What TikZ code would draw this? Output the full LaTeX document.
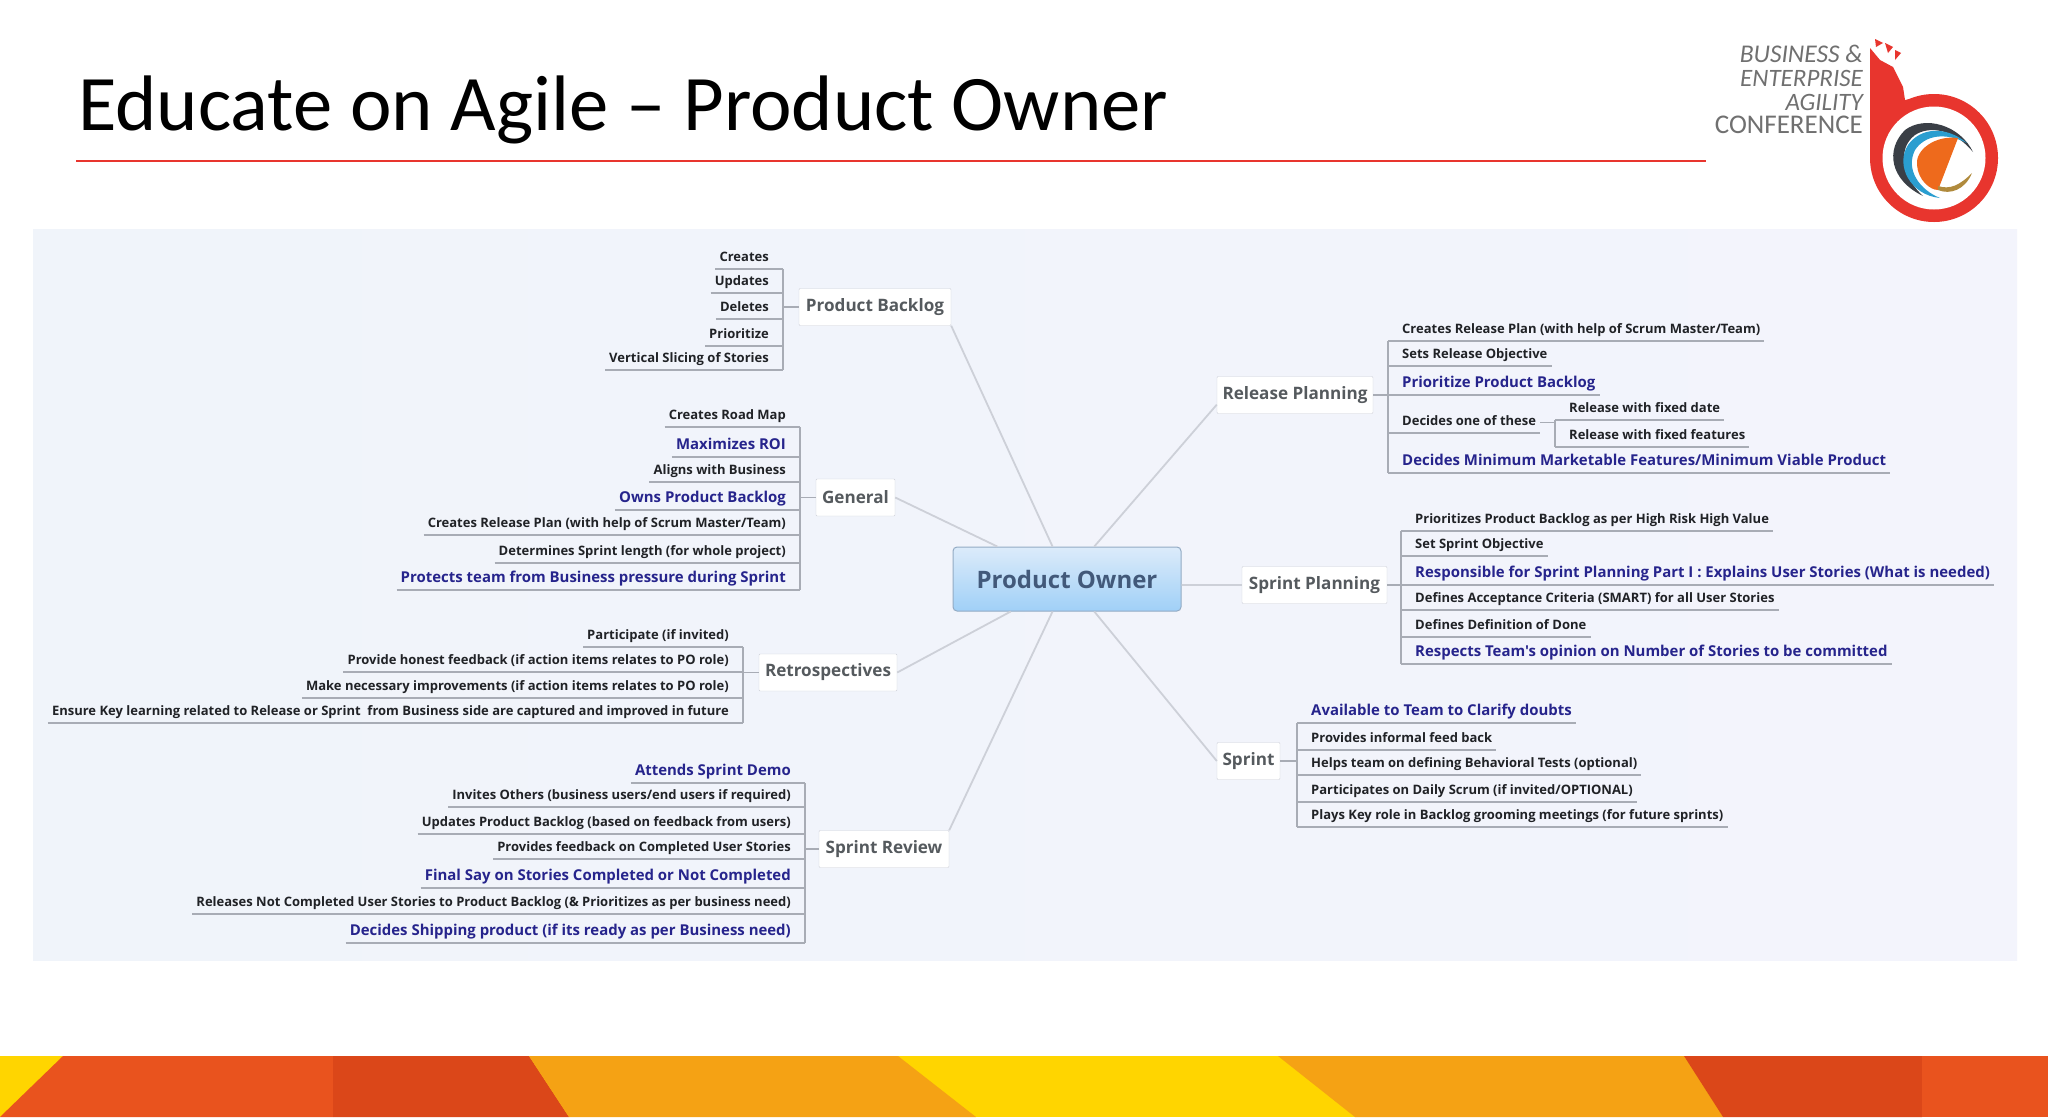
\documentclass[tikz,border=0pt]{standalone}
\usepackage{fontspec}
\setmainfont{Carlito}
\newfontfamily\mapfont{Open Sans}
\usetikzlibrary{positioning}
\definecolor{panelleft}{HTML}{F0F4FA}
\definecolor{panelright}{HTML}{F3F4FC}
\definecolor{mapline}{HTML}{CDD0D8}
\definecolor{leafrule}{HTML}{A8ACB5}
\definecolor{leafblue}{HTML}{26248C}
\definecolor{leafblack}{HTML}{202226}
\definecolor{branchtext}{HTML}{555A5E}
\definecolor{ownerline}{HTML}{93ABC4}
\definecolor{ownertext}{HTML}{42597A}
\definecolor{ownertop}{HTML}{DCEBFA}
\definecolor{ownerbottom}{HTML}{A0D0F7}
\definecolor{logored}{HTML}{E8352E}
\definecolor{logotext}{HTML}{707070}
\definecolor{logodark}{HTML}{3A3F46}
\definecolor{logoblue}{HTML}{2A9ED0}
\definecolor{logoorange}{HTML}{EE6A1C}
\definecolor{logotail}{HTML}{B08A3C}
\definecolor{bandyellow}{HTML}{FFD500}
\definecolor{bandred}{HTML}{E9531E}
\definecolor{banddark}{HTML}{DB4719}
\definecolor{bandorange}{HTML}{F5A214}
\tikzset{
    mapedge/.style={draw=mapline, line width=1.8pt},
    owner/.style={draw=ownerline, line width=1pt, rounded corners=4pt, top color=ownertop, bottom color=ownerbottom,
        minimum width=228pt, minimum height=64pt, text=ownertext, font=\mapfont\fontsize{24}{27}\selectfont\bfseries},
    branch/.style={draw=mapline, fill=white, rounded corners=1pt, minimum height=37pt, inner sep=0pt,
        text=branchtext, font=\mapfont\fontsize{17.1}{20}\selectfont\bfseries},
    leaf/.style={inner ysep=4pt, text depth=3.5pt, text height=9pt,
        append after command={(\tikzlastnode.south west) edge[leafedge] (\tikzlastnode.south east)}},
    leafedge/.style={draw=leafrule, line width=1.1pt},
    leafl/.style={leaf, anchor=south east, inner xsep=4pt, execute at end node={\hspace{10pt}}},
    leafr/.style={leaf, anchor=south west, inner xsep=4pt, execute at begin node={\hspace{10pt}}},
    plain/.style={text=leafblack, font=\mapfont\fontsize{13}{15}\selectfont\bfseries},
    strong/.style={text=leafblue, font=\mapfont\fontsize{14.95}{17}\selectfont\bfseries},
}
\begin{document}
\begin{tikzpicture}[x=1pt, y=-1pt]
    \useasboundingbox (0,0) rectangle (2048,1117);
    \fill[white] (0,0) rectangle (2048,1117);
    \node[anchor=base west, inner sep=0pt, font=\fontsize{78.7}{82}\selectfont] (title) at (78,130) {Educate on Agile -- Product Owner};
    \coordinate (ruleA) at (76,161);
    \coordinate (ruleB) at (1706,161);
    \draw[logored, line width=1.1pt] (ruleA) -- (ruleB);
    \fill[left color=panelleft, right color=panelright] (33,229) rectangle (2017,960);

    \fill[bandyellow] (0,1056) rectangle (2048,1117);
    \fill[bandred] (63,1056) -- (0,1117) -- (333,1117) -- (333,1056) -- cycle;
    \fill[banddark] (333,1056) -- (333,1117) -- (569,1117) -- (529,1056) -- cycle;
    \fill[bandorange] (529,1056) -- (569,1117) -- (976,1117) -- (898,1056) -- cycle;
    \fill[bandorange] (1278,1056) -- (1355,1117) -- (1723,1117) -- (1684,1056) -- cycle;
    \fill[banddark] (1684,1056) -- (1723,1117) -- (1922,1117) -- (1922,1056) -- cycle;
    \fill[bandred] (1922,1056) rectangle (2048,1117);

    \node[anchor=base east, inner sep=0pt, text=logotext, font=\fontsize{25.5}{27}\selectfont\itshape] (logoA) at (1863,62) {BUSINESS \&};
    \node[anchor=base east, inner sep=0pt, text=logotext, font=\fontsize{25}{27}\selectfont\itshape] (logoB) at (1863,86) {ENTERPRISE};
    \node[anchor=base east, inner sep=0pt, text=logotext, font=\fontsize{25}{27}\selectfont\itshape] (logoC) at (1863,110) {AGILITY};
    \node[anchor=base east, inner sep=0pt, text=logotext, font=\fontsize{27}{29}\selectfont] (logoD) at (1863,133) {CONFERENCE};
    \fill[logored] (1870,48) -- (1880,60) -- (1893,67) -- (1903,87) -- (1905,100) -- (1934,94) -- (1934,158) -- (1870,158) -- cycle;
    \fill[logored] (1934,158) circle (64);
    \fill[white] (1934,158) circle (51.5);
    \fill[logored] (1875,39) -- (1883,43) -- (1876,47) -- cycle;
    \fill[logored] (1885,43) -- (1893,47) -- (1888,53) -- cycle;
    \fill[logored] (1895,50) -- (1901,53) -- (1895,60) -- cycle;
    \fill[logodark] (1973,152) .. controls (1960,125) and (1925,115) .. (1905,130) .. controls (1885,150) and (1890,180) .. (1923,196) .. controls (1905,180) and (1895,150) .. (1915,135) .. controls (1930,125) and (1955,130) .. (1973,152) -- cycle;
    \fill[logoblue] (1967,143) .. controls (1945,125) and (1920,128) .. (1908,145) .. controls (1895,165) and (1910,195) .. (1940,198) .. controls (1920,190) and (1905,170) .. (1915,150) .. controls (1925,135) and (1945,132) .. (1967,143) -- cycle;
    \fill[logoorange] (1958,138) .. controls (1935,135) and (1915,150) .. (1917,165) .. controls (1918,180) and (1930,190) .. (1938,190) -- cycle;
    \fill[logotail] (1938,190) .. controls (1950,195) and (1965,190) .. (1972,173) .. controls (1960,185) and (1950,190) .. (1938,186) -- cycle;

    \node[owner] (owner) at (1067,579) {Product Owner};
    \node[branch, minimum width=152pt] (backlog) at (875,307) {Product Backlog};
    \node[branch, minimum width=79pt] (general) at (855.5,497.5) {General};
    \node[branch, minimum width=138pt] (retro) at (828,672.5) {Retrospectives};
    \node[branch, minimum width=130pt] (review) at (884,849) {Sprint Review};
    \node[branch, minimum width=156pt] (release) at (1295,395) {Release Planning};
    \node[branch, minimum width=145pt] (planning) at (1314.5,585) {Sprint Planning};
    \node[branch, minimum width=63pt] (sprint) at (1248.5,761) {Sprint};

    \draw[mapedge] (owner.114) -- (backlog.south east);
    \draw[mapedge] (owner.155) -- (general.east);
    \draw[mapedge] (owner.210) -- (retro.east);
    \draw[mapedge] (owner.246) -- (review.north east);
    \draw[mapedge] (owner.50) -- (release.187);
    \draw[mapedge] (owner.-3) -- (planning.west);
    \draw[mapedge] (owner.310) -- (sprint.west);

    \node[leafl, plain] (backlogA) at (783,269) {Creates};
    \node[leafl, plain] (backlogB) at (783,293) {Updates};
    \node[leafl, plain] (backlogC) at (783,319) {Deletes};
    \node[leafl, plain] (backlogD) at (783,346) {Prioritize};
    \node[leafl, plain] (backlogE) at (783,370) {Vertical Slicing of Stories};
    \draw[leafedge] (backlogA.south east) -- (backlogE.south east);
    \draw[leafedge] (backlog.west) -- (backlog.west -| backlogA.south east);

    \node[leafl, plain] (generalA) at (800,427) {Creates Road Map};
    \node[leafl, strong] (generalB) at (800,457) {Maximizes ROI};
    \node[leafl, plain] (generalC) at (800,482) {Aligns with Business};
    \node[leafl, strong] (generalD) at (800,510) {Owns Product Backlog};
    \node[leafl, plain] (generalE) at (800,535) {Creates Release Plan (with help of Scrum Master/Team)};
    \node[leafl, plain] (generalF) at (800,563) {Determines Sprint length (for whole project)};
    \node[leafl, strong] (generalG) at (800,590) {Protects team from Business pressure during Sprint};
    \draw[leafedge] (generalA.south east) -- (generalG.south east);
    \draw[leafedge] (general.west) -- (general.west -| generalA.south east);

    \node[leafl, plain] (retroA) at (743,647) {Participate (if invited)};
    \node[leafl, plain] (retroB) at (743,672) {Provide honest feedback (if action items relates to PO role)};
    \node[leafl, plain] (retroC) at (743,698) {Make necessary improvements (if action items relates to PO role)};
    \node[leafl, plain] (retroD) at (743,723) {Ensure Key learning related to Release or Sprint\ \ from Business side are captured and improved in future};
    \draw[leafedge] (retroA.south east) -- (retroD.south east);
    \draw[leafedge] (retro.west) -- (retro.west -| retroA.south east);

    \node[leafl, strong] (reviewA) at (805,783) {Attends Sprint Demo};
    \node[leafl, plain] (reviewB) at (805,807) {Invites Others (business users/end users if required)};
    \node[leafl, plain] (reviewC) at (805,834) {Updates Product Backlog (based on feedback from users)};
    \node[leafl, plain] (reviewD) at (805,859) {Provides feedback on Completed User Stories};
    \node[leafl, strong] (reviewE) at (805,888) {Final Say on Stories Completed or Not Completed};
    \node[leafl, plain] (reviewF) at (805,914) {Releases Not Completed User Stories to Product Backlog (\& Prioritizes as per business need)};
    \node[leafl, strong] (reviewG) at (805,943) {Decides Shipping product (if its ready as per Business need)};
    \draw[leafedge] (reviewA.south east) -- (reviewG.south east);
    \draw[leafedge] (review.west) -- (review.west -| reviewA.south east);

    \node[leafr, plain] (releaseA) at (1388,341) {Creates Release Plan (with help of Scrum Master/Team)};
    \node[leafr, plain] (releaseB) at (1388,366) {Sets Release Objective};
    \node[leafr, strong] (releaseC) at (1388,395) {Prioritize Product Backlog};
    \node[leafr, plain] (releaseD) at (1388,433) {Decides one of these};
    \node[leafr, plain] (fixedA) at (1555,420) {Release with fixed date};
    \node[leafr, plain] (fixedB) at (1555,447) {Release with fixed features};
    \node[leafr, strong] (releaseE) at (1388,473) {Decides Minimum Marketable Features/Minimum Viable Product};
    \draw[leafedge] (releaseA.south west) -- (releaseE.south west);
    \draw[leafedge] (fixedA.south west) -- (fixedB.south west);
    \draw[leafedge] (release.east) -- (release.east -| releaseA.south west);
    \draw[leafedge] (releaseD.east) -- (releaseD.east -| fixedA.south west);

    \node[leafr, plain] (planningA) at (1401,531) {Prioritizes Product Backlog as per High Risk High Value};
    \node[leafr, plain] (planningB) at (1401,556) {Set Sprint Objective};
    \node[leafr, strong] (planningC) at (1401,585) {Responsible for Sprint Planning Part I : Explains User Stories (What is needed)};
    \node[leafr, plain] (planningD) at (1401,610) {Defines Acceptance Criteria (SMART) for all User Stories};
    \node[leafr, plain] (planningE) at (1401,637) {Defines Definition of Done};
    \node[leafr, strong] (planningF) at (1401,664) {Respects Team's opinion on Number of Stories to be committed};
    \draw[leafedge] (planningA.south west) -- (planningF.south west);
    \draw[leafedge] (planning.east) -- (planning.east -| planningA.south west);

    \node[leafr, strong] (sprintA) at (1297,723) {Available to Team to Clarify doubts};
    \node[leafr, plain] (sprintB) at (1297,750) {Provides informal feed back};
    \node[leafr, plain] (sprintC) at (1297,775) {Helps team on defining Behavioral Tests (optional)};
    \node[leafr, plain] (sprintD) at (1297,802) {Participates on Daily Scrum (if invited/OPTIONAL)};
    \node[leafr, plain] (sprintE) at (1297,827) {Plays Key role in Backlog grooming meetings (for future sprints)};
    \draw[leafedge] (sprintA.south west) -- (sprintE.south west);
    \draw[leafedge] (sprint.east) -- (sprint.east -| sprintA.south west);
\end{tikzpicture}
\end{document}
